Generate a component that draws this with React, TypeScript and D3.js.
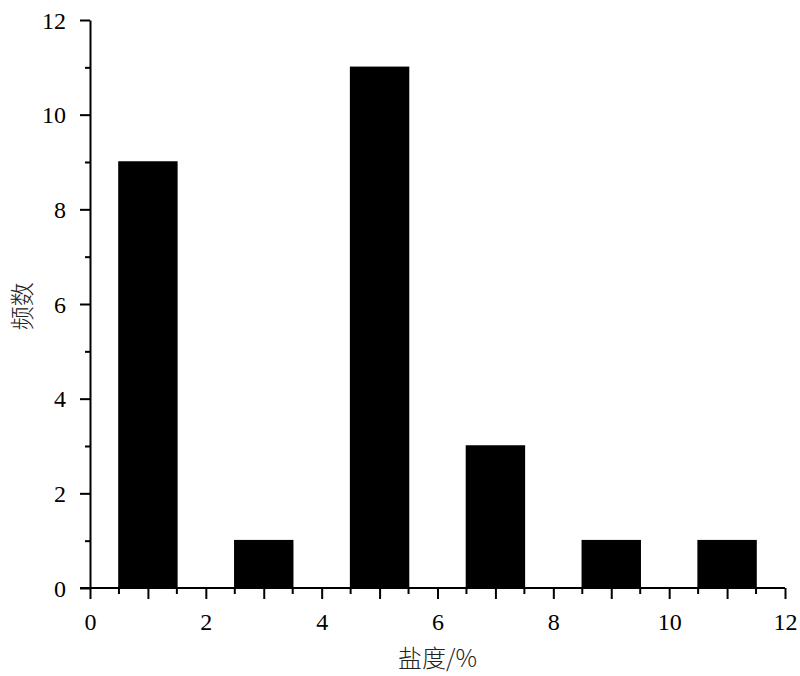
import React, { useRef, useEffect } from "react";
import * as d3 from "d3";

// salinity class centres (%) and their counts
const centers = [1, 3, 5, 7, 9, 11];
const counts = [9, 1, 11, 3, 1, 1];
const xTicks = [0, 2, 4, 6, 8, 10, 12];
const yTicks = [0, 2, 4, 6, 8, 10, 12];
const xLabel = "盐度/%";
const yLabel = "频数";

const W = 800;
const H = 676;

function App() {
  const ref = useRef<SVGSVGElement>(null);

  useEffect(() => {
    const svg = d3.select(ref.current);
    svg.selectAll("*").remove();

    const x = d3.scaleLinear().domain([0, 12]).range([90, 785]);
    const y = d3.scaleLinear().domain([0, 12]).range([588, 20]);
    const serif = "'Liberation Serif', Tinos, 'Times New Roman', serif";
    const cjk = "'Noto Sans CJK SC', sans-serif";

    // bars
    const bars = svg.append("g");
    centers.forEach((c, i) => {
      bars
        .append("rect")
        .attr("x", x(c - 0.5))
        .attr("y", y(counts[i]))
        .attr("width", x(c + 0.5) - x(c - 0.5))
        .attr("height", y(0) - y(counts[i]))
        .attr("fill", "#000")
        .attr("stroke", "#000")
        .attr("stroke-width", 1.5);
      // bar outline ends poke below the axis
      [c - 0.5, c + 0.5].forEach(e => {
        bars
          .append("line")
          .attr("x1", x(e)).attr("x2", x(e))
          .attr("y1", y(0)).attr("y2", y(0) + 6)
          .attr("stroke", "#000")
          .attr("stroke-width", 2);
      });
    });

    // x axis
    const xAxis = svg
      .append("g")
      .attr("transform", `translate(0,${y(0)})`)
      .call(
        d3.axisBottom(x)
          .tickValues(d3.range(0, 13, 1))
          .tickSize(11)
          .tickSizeOuter(0)
          .tickFormat(d => (xTicks.includes(+d) ? String(d) : ""))
      );
    xAxis.select(".domain").attr("stroke-width", 2).attr("d", `M80,0H${x(12)}`);
    xAxis.selectAll(".tick line").attr("stroke-width", 2);
    xAxis
      .selectAll(".tick text")
      .attr("font-family", serif)
      .attr("font-size", 24)
      .attr("fill", "#000")
      .attr("dy", "1.15em")
      .attr("y", 14);

    // y axis
    const yAxis = svg
      .append("g")
      .attr("transform", `translate(${x(0)},0)`)
      .call(
        d3.axisLeft(y)
          .tickValues(d3.range(0, 13, 1))
          .tickSize(10)
          .tickSizeOuter(0)
          .tickFormat(d => (yTicks.includes(+d) ? String(d) : ""))
      );
    yAxis.select(".domain").attr("stroke-width", 2);
    yAxis.selectAll(".tick line").attr("stroke-width", 2);
    yAxis
      .selectAll(".tick")
      .filter(d => !yTicks.includes(+(d as number)))
      .select("line")
      .attr("x2", -5);
    yAxis
      .selectAll(".tick text")
      .attr("font-family", serif)
      .attr("font-size", 24)
      .attr("fill", "#000")
      .attr("x", -24)
      .attr("dy", "0.34em");

    // axis titles
    svg
      .append("text")
      .attr("x", (x(0) + x(12)) / 2)
      .attr("y", 667)
      .attr("text-anchor", "middle")
      .attr("font-family", cjk)
      .attr("font-weight", 300)
      .attr("font-size", 24)
      .attr("fill", "#222")
      .text(xLabel);

    svg
      .append("text")
      .attr("transform", `translate(31,${y(5.95)}) rotate(-90)`)
      .attr("text-anchor", "middle")
      .attr("font-family", cjk)
      .attr("font-weight", 300)
      .attr("font-size", 24)
      .attr("fill", "#222")
      .text(yLabel);
  }, []);

  return (
    <svg
      ref={ref}
      width={W}
      height={H}
      style={{ position: "absolute", left: 0, top: 0, background: "#fff" }}
    />
  );
}

export default App;
